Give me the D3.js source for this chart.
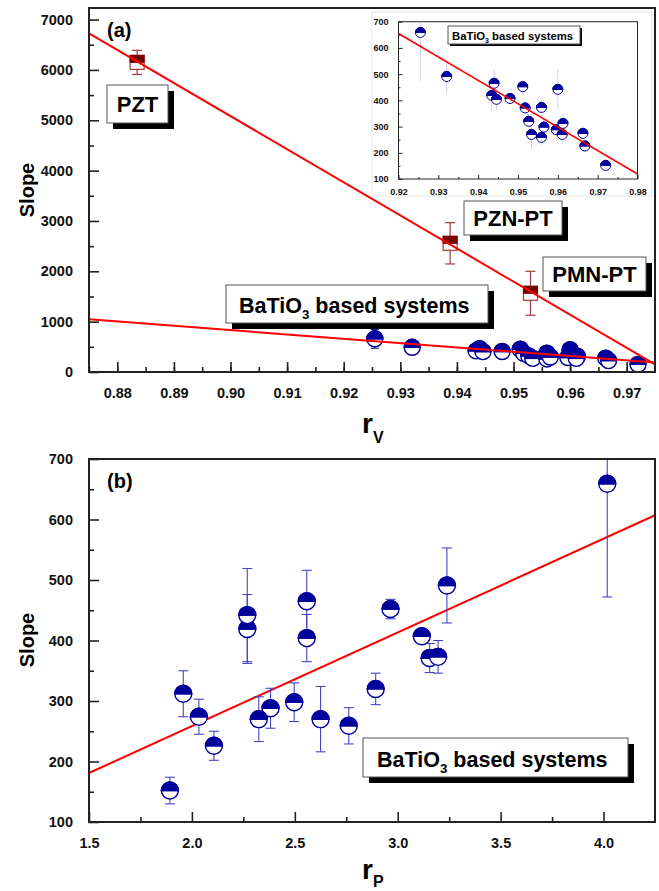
<!DOCTYPE html>
<html><head><meta charset="utf-8">
<script src="https://cdn.jsdelivr.net/npm/d3@7"></script>
<style>
body{margin:0;background:#fff;}
svg{display:block;font-family:"Liberation Sans",Arial,sans-serif;font-weight:bold;}
</style></head><body>
<svg id="c" width="659" height="891"></svg>
<script>
// ---- data ----
const rV    = [0.9255,0.9321,0.9440,0.9434,0.9446,0.9480,0.9512,0.9518,0.9527,0.9534,0.9559,0.9559,0.9565,0.9600,0.9596,0.9613,0.9611,0.9663,0.9668,0.9720];
const rP    = [4.018,3.239,2.558,2.269,2.558,3.117,2.965,3.155,2.893,2.625,3.196,2.762,2.497,2.269,2.382,1.958,2.325,2.034,2.107,1.893];
const slope = [659,491,465,419,404,407,452,371,320,270,373,259,298,442,288,312,270,274,226,152];
const slopeErr = [187,62,51,57,39,8,16,24,26,54,27,30,32,77,33,38,37,29,24,22];

const relaxors = ["PZT","PZN-PT","PMN-PT"];
const relaxorRV = [0.8835,0.9388,0.9530];
const relaxorSlope = [6150,2556,1563];
const relaxorErr = [240,410,437];

const fitA1 = {x:[0.875,0.975], y:[6727,152]};
const fitA2 = {x:[0.875,0.975], y:[1046,187]};
const fitIn = {x:[0.92,0.98], y:[655,119]};
const fitB  = {x:[1.5,4.25], y:[181,607]};

const ticksAX = [0.88,0.89,0.90,0.91,0.92,0.93,0.94,0.95,0.96,0.97];
const ticksAY = [0,1000,2000,3000,4000,5000,6000,7000];
const ticksBX = [1.5,2.0,2.5,3.0,3.5,4.0];
const ticksBY = [100,200,300,400,500,600,700];
const ticksIX = [0.92,0.93,0.94,0.95,0.96,0.97,0.98];
const ticksIY = [100,200,300,400,500,600,700];

// ---- drawing ----
const svg = d3.select("#c");
const NAVY = "#00009a", EBLUE = "#4646c4", RED = "#ff0000", DRED = "#7a0000";

const xa = d3.scaleLinear([0.875,0.975],[89,655]);
const ya = d3.scaleLinear([0,7230],[372,8]);
const xb = d3.scaleLinear([1.5,4.25],[89,655]);
const yb = d3.scaleLinear([100,700],[822,459]);
const xi = d3.scaleLinear([0.92,0.98],[398.5,637.5]);
const yi = d3.scaleLinear([100,700],[179,21.7]);

function frame(x, y, sw){
  const [x0,x1] = x.range(), [y1,y0] = y.range();
  svg.append("rect").attr("x",x0).attr("y",y0).attr("width",x1-x0).attr("height",y1-y0)
    .attr("fill","none").attr("stroke","#222").attr("stroke-width",sw);
}
function axes(x, y, tx, ty, minorX, minorY, fmtX, fmtY, fs, major, minor, sw){
  const [x0] = x.range(), [y1] = y.range();
  const gx = svg.append("g").attr("transform",`translate(0,${y1})`)
    .call(d3.axisBottom(x).tickValues(tx).tickSize(-major).tickPadding(major+6).tickFormat(fmtX));
  const gxm = svg.append("g").attr("transform",`translate(0,${y1})`)
    .call(d3.axisBottom(x).tickValues(minorX).tickSize(-minor).tickFormat(""));
  const gy = svg.append("g").attr("transform",`translate(${x0},0)`)
    .call(d3.axisLeft(y).tickValues(ty).tickSize(-major).tickPadding(major+6).tickFormat(fmtY));
  const gym = svg.append("g").attr("transform",`translate(${x0},0)`)
    .call(d3.axisLeft(y).tickValues(minorY).tickSize(-minor).tickFormat(""));
  [gx,gxm,gy,gym].forEach(g=>{
    g.select(".domain").remove();
    g.selectAll("line").attr("stroke","#222").attr("stroke-width",sw);
    g.selectAll("text").attr("font-size",fs).attr("font-weight","bold").attr("fill","#111")
      .attr("font-family","'Liberation Sans',Arial,sans-serif");
  });
  return [gx,gy];
}
function fitLine(x,y,f,w){
  svg.append("line").attr("x1",x(f.x[0])).attr("y1",y(f.y[0])).attr("x2",x(f.x[1])).attr("y2",y(f.y[1]))
    .attr("stroke",RED).attr("stroke-width",w);
}
function halfMarker(g, cx, cy, r, sw){
  g.append("circle").attr("cx",cx).attr("cy",cy).attr("r",r).attr("fill","#fff").attr("stroke",NAVY).attr("stroke-width",sw);
  g.append("path").attr("d",`M${cx-r},${cy} A${r},${r} 0 0 1 ${cx+r},${cy} Z`).attr("fill",NAVY).attr("stroke",NAVY).attr("stroke-width",sw);
  g.append("line").attr("x1",cx-r).attr("x2",cx+r).attr("y1",cy).attr("y2",cy).attr("stroke",NAVY).attr("stroke-width",sw);
}
function errBar(g, cx, y, v, e, cap, color, w){
  g.append("line").attr("x1",cx).attr("x2",cx).attr("y1",y(v-e)).attr("y2",y(v+e)).attr("stroke",color).attr("stroke-width",w);
  if(cap>0){
    [v-e,v+e].forEach(t=>g.append("line").attr("x1",cx-cap).attr("x2",cx+cap).attr("y1",y(t)).attr("y2",y(t)).attr("stroke",color).attr("stroke-width",w));
  }
}
function labelBox(x0,y0,w,h,off,drawText){
  svg.append("rect").attr("x",x0+off).attr("y",y0+off).attr("width",w).attr("height",h).attr("fill","#000");
  svg.append("rect").attr("x",x0).attr("y",y0).attr("width",w).attr("height",h).attr("fill","#fff").attr("stroke","#555").attr("stroke-width",1);
  drawText();
}
function bato(x, y, fs, anchor){
  const t = svg.append("text").attr("x",x).attr("y",y).attr("font-size",fs).attr("font-weight","bold").attr("fill","#000").attr("text-anchor",anchor||"start");
  t.append("tspan").text("BaTiO");
  t.append("tspan").attr("font-size",fs*0.62).attr("dy",fs*0.3).text("3");
  t.append("tspan").attr("dy",-fs*0.3).text(" based systems");
}

const f2 = d3.format(".2f"), f1 = d3.format(".1f"), f0 = d3.format("d");

const defs = svg.append("defs");
defs.append("clipPath").attr("id","clipA").append("rect").attr("x",89).attr("y",8).attr("width",566).attr("height",364);
defs.append("clipPath").attr("id","clipB").append("rect").attr("x",89).attr("y",459).attr("width",566).attr("height",363);
defs.append("clipPath").attr("id","clipI").append("rect").attr("x",398.5).attr("y",21.7).attr("width",239).attr("height",157.3);

// ===== Panel (a) =====
axes(xa, ya, ticksAX, ticksAY, d3.range(0,20).map(i=>0.875+i*0.005+0.0000001).filter(v=>v<0.975), d3.range(500,7230,1000), f2, f0, 14.5, 10, 5, 1.6);

const gA = svg.append("g").attr("clip-path","url(#clipA)");
labelBox(226,285,262,38,6,()=>bato(239,313,21.5));
labelBox(107,85,61,38,6,()=>svg.append("text").attr("x",137.5).attr("y",112).attr("text-anchor","middle").attr("font-size",22).text(relaxors[0]));
labelBox(464,201,98,34,6,()=>svg.append("text").attr("x",513).attr("y",226).attr("text-anchor","middle").attr("font-size",22).text(relaxors[1]));
labelBox(543,257,103,34,6,()=>svg.append("text").attr("x",594.5).attr("y",282).attr("text-anchor","middle").attr("font-size",22).text(relaxors[2]));

fitLine(xa, ya, fitA1, 2);
fitLine(xa, ya, fitA2, 2);

relaxorRV.forEach((v,i)=>{
  const cx = xa(v), cy = ya(relaxorSlope[i]), s = 7;
  errBar(gA, cx, ya, relaxorSlope[i], relaxorErr[i], 5, "#a33a3a", 1.2);
  gA.append("rect").attr("x",cx-s).attr("y",cy-s).attr("width",2*s).attr("height",2*s).attr("fill","#fff").attr("stroke","#a33a3a").attr("stroke-width",1.2);
  gA.append("rect").attr("x",cx-s).attr("y",cy-s).attr("width",2*s).attr("height",s).attr("fill",DRED).attr("stroke",DRED).attr("stroke-width",1);
});
rV.forEach((v,i)=>{
  errBar(gA, xa(v), ya, slope[i], slopeErr[i], 4, NAVY, 1);
  halfMarker(gA, xa(v), ya(slope[i]), 8, 1.4);
});
frame(xa, ya, 2);

svg.append("text").attr("x",107).attr("y",37).attr("font-size",20).text("(a)");
svg.append("text").attr("transform","translate(34,190) rotate(-90)").attr("text-anchor","middle").attr("font-size",20).text("Slope");
const tV = svg.append("text").attr("x",362).attr("y",433).attr("font-size",28);
tV.append("tspan").text("r");
tV.append("tspan").attr("font-size",16).attr("dy",10).text("V");

// ===== Inset =====
svg.append("rect").attr("x",372).attr("y",12).attr("width",280).attr("height",184).attr("fill","#fff").attr("stroke","#e6e6e6").attr("stroke-width",1);
axes(xi, yi, ticksIX, ticksIY, d3.range(0.925,0.98,0.01), d3.range(150,700,100), f2, f0, 9, 4, 2, 1);
frame(xi, yi, 1);
const gI = svg.append("g").attr("clip-path","url(#clipI)");
rV.forEach((v,i)=>{ errBar(gI, xi(v), yi, slope[i], slopeErr[i], 0, "#d0d0e4", 1); });
fitLine(xi, yi, fitIn, 1.6);
rV.forEach((v,i)=>{ halfMarker(gI, xi(v), yi(slope[i]), 5, 1); });
labelBox(448,26,132,18,2,()=>bato(452,40,11.3));

// ===== Panel (b) =====
axes(xb, yb, ticksBX, ticksBY, d3.range(1.75,4.25,0.5), d3.range(150,700,100), f1, f0, 14.5, 10, 5, 1.6);
labelBox(363,738,265,39,6,()=>bato(377,767,21.5));
fitLine(xb, yb, fitB, 2);
const gB = svg.append("g").attr("clip-path","url(#clipB)");
rP.forEach((v,i)=>{ errBar(gB, xb(v), yb, slope[i], slopeErr[i], 5, EBLUE, 1.1); });
rP.forEach((v,i)=>{ halfMarker(gB, xb(v), yb(slope[i]), 8.5, 1.4); });
frame(xb, yb, 2);

svg.append("text").attr("x",107).attr("y",488).attr("font-size",20).text("(b)");
svg.append("text").attr("transform","translate(34,640) rotate(-90)").attr("text-anchor","middle").attr("font-size",20).text("Slope");
const tP = svg.append("text").attr("x",362).attr("y",879).attr("font-size",28);
tP.append("tspan").text("r");
tP.append("tspan").attr("font-size",16).attr("dy",8).text("P");
</script>
</body></html>
